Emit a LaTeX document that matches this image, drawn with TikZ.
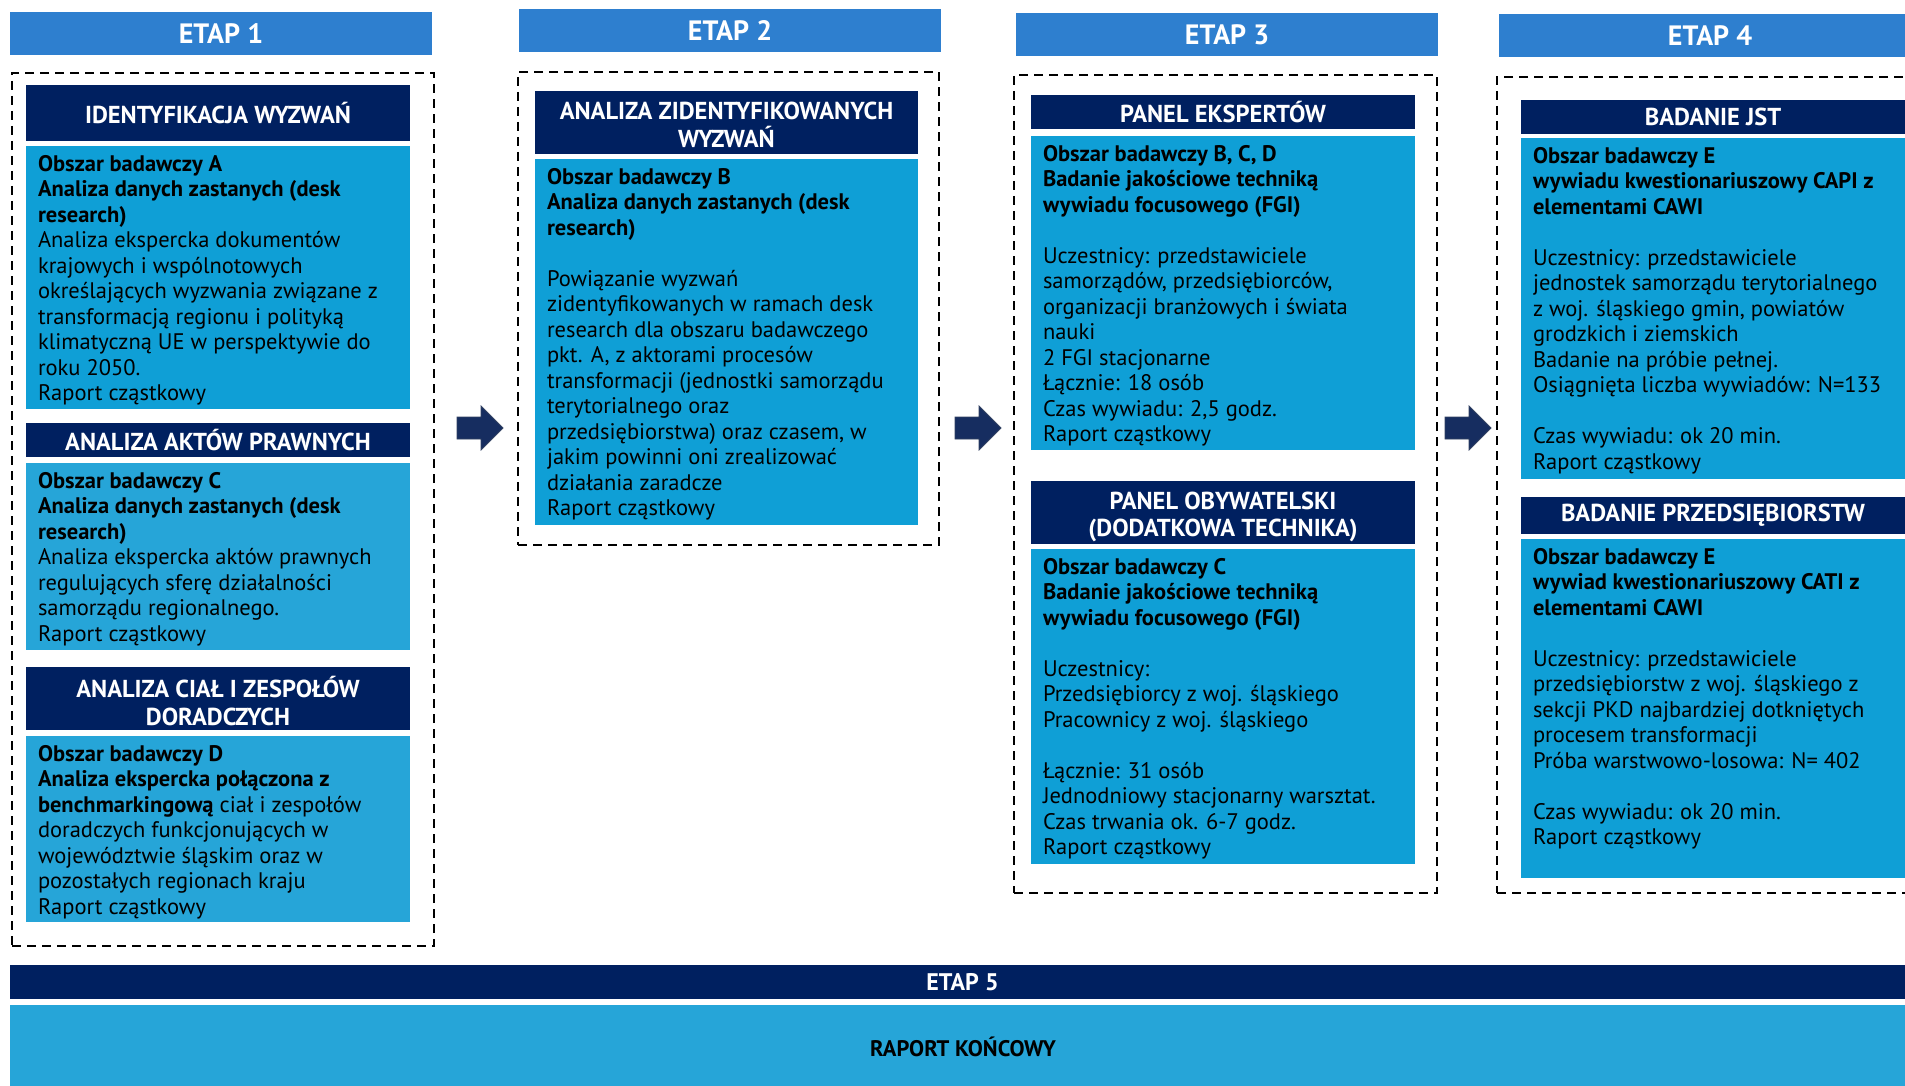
\documentclass[tikz,border=0pt]{standalone}
\usepackage{fontspec}
\setmainfont{PT Sans}
\definecolor{etapblue}{RGB}{46,127,207}
\definecolor{navy}{RGB}{0,32,96}
\definecolor{bodyblue}{RGB}{15,159,214}
\definecolor{bodyblue2}{RGB}{38,165,216}
\definecolor{arrowfill}{RGB}{22,45,96}
\definecolor{arrowdraw}{RGB}{50,66,98}
\tikzset{
  etapbar/.style={fill=etapblue, anchor=north west, inner sep=0pt, outer sep=0pt, text=white, font=\fontsize{28}{32}\selectfont\bfseries},
  hdr/.style={fill=navy, anchor=north west, inner sep=0pt, outer sep=0pt, minimum width=384pt, text=white, align=center, font=\fontsize{24.5}{27.5}\selectfont\bfseries},
  hdrtext/.style={inner sep=0pt, outer sep=0pt, text=white, align=center, font=\fontsize{24.5}{27.5}\selectfont\bfseries},
  bodybox/.style={fill=bodyblue, anchor=north west, inner sep=0pt, outer sep=0pt, minimum width=384pt},
  btext/.style={anchor=north west, inner sep=0pt, outer sep=0pt, align=left, text=black, font=\fontsize{22.5}{25.5}\selectfont},
  dashbox/.style={draw=black, anchor=north west, inner sep=0pt, outer sep=0pt, line width=2pt, dash pattern=on 9pt off 6pt},
  blockarrow/.style={fill=arrowfill, draw=arrowdraw, line width=0.8pt, line join=miter},
}
% block arrow centred at (#1,#2): shaft 24 long, 22 high; head 22 long, 44 high
\newcommand\myblockarrow[3]{%
  \coordinate (#3) at (#1,#2);
  \draw[blockarrow] ([shift={(-23,-11)}]#3) -- ([shift={(1,-11)}]#3) -- ([shift={(1,-22)}]#3)
    -- ([shift={(23,0)}]#3) -- ([shift={(1,22)}]#3) -- ([shift={(1,11)}]#3)
    -- ([shift={(-23,11)}]#3) -- cycle;}
\begin{document}
\begin{tikzpicture}[x=1pt,y=-1pt]
\useasboundingbox (0,0) rectangle (1905,1086);
\clip (0,0) rectangle (1905,1086);

% ---------- ETAP 1 ----------
\node[etapbar, minimum width=422pt, minimum height=43pt] (e1) at (10,12) {ETAP 1};
\node[dashbox, minimum width=422pt, minimum height=873pt] (d1) at (12,73) {};
\node[hdr, minimum height=56pt] (h1a) at (26,85) {IDENTYFIKACJA WYZWAŃ};
\node[bodybox, minimum height=263pt] (b1a) at (26,146) {};
\node[btext] (t1a) at ([xshift=12pt,yshift=-9pt]b1a.north west) {\textbf{Obszar badawczy A}\\
\textbf{Analiza danych zastanych (desk}\\
\textbf{research)}\\
Analiza ekspercka dokumentów\\
krajowych i wspólnotowych\\
określających wyzwania związane z\\
transformacją regionu i polityką\\
klimatyczną UE w perspektywie do\\
roku 2050.\\
Raport cząstkowy};
\node[hdr, minimum height=34pt] (h1b) at (26,423) {ANALIZA AKTÓW PRAWNYCH};
\node[bodybox, fill=bodyblue2, minimum height=187pt] (b1b) at (26,463) {};
\node[btext] (t1b) at ([xshift=12pt,yshift=-9pt]b1b.north west) {\textbf{Obszar badawczy C}\\
\textbf{Analiza danych zastanych (desk}\\
\textbf{research)}\\
Analiza ekspercka aktów prawnych\\
regulujących sferę działalności\\
samorządu regionalnego.\\
Raport cząstkowy};
\node[hdr, minimum height=63pt] (h1c) at (26,667) {};
\node[hdrtext] (h1ct) at ([yshift=-2.5pt]h1c.center) {ANALIZA CIAŁ I ZESPOŁÓW\\DORADCZYCH};
\node[bodybox, fill=bodyblue2, minimum height=186pt] (b1c) at (26,736) {};
\node[btext] (t1c) at ([xshift=12pt,yshift=-9pt]b1c.north west) {\textbf{Obszar badawczy D}\\
\textbf{Analiza ekspercka połączona z}\\
\textbf{benchmarkingową} ciał i zespołów\\
doradczych funkcjonujących w\\
województwie śląskim oraz w\\
pozostałych regionach kraju\\
Raport cząstkowy};

% ---------- ETAP 2 ----------
\node[etapbar, minimum width=422pt, minimum height=43pt] (e2) at (519,9) {ETAP 2};
\node[dashbox, minimum width=421pt, minimum height=473pt] (d2) at (518,72) {};
\node[hdr, minimum width=383pt, minimum height=63pt] (h2a) at (535,91) {};
\node[hdrtext] (h2at) at ([yshift=-2.5pt]h2a.center) {ANALIZA ZIDENTYFIKOWANYCH\\WYZWAŃ};
\node[bodybox, minimum width=383pt, minimum height=366pt] (b2a) at (535,159) {};
\node[btext] (t2a) at ([xshift=12pt,yshift=-9pt]b2a.north west) {\textbf{Obszar badawczy B}\\
\textbf{Analiza danych zastanych (desk}\\
\textbf{research)}\\[25.5pt]
Powiązanie wyzwań\\
zidentyfikowanych w ramach desk\\
research dla obszaru badawczego\\
pkt. A, z aktorami procesów\\
transformacji (jednostki samorządu\\
terytorialnego oraz\\
przedsiębiorstwa) oraz czasem, w\\
jakim powinni oni zrealizować\\
działania zaradcze\\
Raport cząstkowy};

% ---------- ETAP 3 ----------
\node[etapbar, minimum width=422pt, minimum height=43pt] (e3) at (1016,13) {ETAP 3};
\node[dashbox, minimum width=423pt, minimum height=818pt] (d3) at (1014,75) {};
\node[hdr, minimum height=34pt] (h3a) at (1031,95) {PANEL EKSPERTÓW};
\node[bodybox, minimum height=314pt] (b3a) at (1031,136) {};
\node[btext] (t3a) at ([xshift=12pt,yshift=-9pt]b3a.north west) {\textbf{Obszar badawczy B, C, D}\\
\textbf{Badanie jakościowe techniką}\\
\textbf{wywiadu focusowego (FGI)}\\[25.5pt]
Uczestnicy: przedstawiciele\\
samorządów, przedsiębiorców,\\
organizacji branżowych i świata\\
nauki\\
2 FGI stacjonarne\\
Łącznie: 18 osób\\
Czas wywiadu: 2,5 godz.\\
Raport cząstkowy};
\node[hdr, minimum height=63pt] (h3b) at (1031,481) {};
\node[hdrtext] (h3bt) at ([yshift=-4.5pt]h3b.center) {PANEL OBYWATELSKI\\(DODATKOWA TECHNIKA)};
\node[bodybox, minimum height=315pt] (b3b) at (1031,549) {};
\node[btext] (t3b) at ([xshift=12pt,yshift=-9pt]b3b.north west) {\textbf{Obszar badawczy C}\\
\textbf{Badanie jakościowe techniką}\\
\textbf{wywiadu focusowego (FGI)}\\[25.5pt]
Uczestnicy:\\
Przedsiębiorcy z woj. śląskiego\\
Pracownicy z woj. śląskiego\\[25.5pt]
Łącznie: 31 osób\\
Jednodniowy stacjonarny warsztat.\\
Czas trwania ok. 6-7 godz.\\
Raport cząstkowy};

% ---------- ETAP 4 ----------
\node[etapbar, minimum width=422pt, minimum height=43pt] (e4) at (1499,14) {ETAP 4};
\node[dashbox, minimum width=440pt, minimum height=816pt] (d4) at (1497,77) {};
\node[hdr, minimum height=34pt] (h4a) at (1521,100) {BADANIE JST};
\node[bodybox, minimum height=341pt] (b4a) at (1521,138) {};
\node[btext] (t4a) at ([xshift=12pt,yshift=-9pt]b4a.north west) {\textbf{Obszar badawczy E}\\
\textbf{wywiadu kwestionariuszowy CAPI z}\\
\textbf{elementami CAWI}\\[25.5pt]
Uczestnicy: przedstawiciele\\
jednostek samorządu terytorialnego\\
z woj. śląskiego gmin, powiatów\\
grodzkich i ziemskich\\
Badanie na próbie pełnej.\\
Osiągnięta liczba wywiadów: N=133\\[25.5pt]
Czas wywiadu: ok 20 min.\\
Raport cząstkowy};
\node[hdr, minimum height=37pt] (h4b) at (1521,497) {BADANIE PRZEDSIĘBIORSTW};
\node[bodybox, minimum height=339pt] (b4b) at (1521,539) {};
\node[btext] (t4b) at ([xshift=12pt,yshift=-9pt]b4b.north west) {\textbf{Obszar badawczy E}\\
\textbf{wywiad kwestionariuszowy CATI z}\\
\textbf{elementami CAWI}\\[25.5pt]
Uczestnicy: przedstawiciele\\
przedsiębiorstw z woj. śląskiego z\\
sekcji PKD najbardziej dotkniętych\\
procesem transformacji\\
Próba warstwowo-losowa: N= 402\\[25.5pt]
Czas wywiadu: ok 20 min.\\
Raport cząstkowy};

% ---------- arrows ----------
\myblockarrow{480}{428}{a12}
\myblockarrow{978}{428}{a23}
\myblockarrow{1468}{428}{a34}

% ---------- ETAP 5 ----------
\node[fill=navy, anchor=north west, inner sep=0pt, outer sep=0pt, minimum width=1905pt, minimum height=34pt, text=white, font=\fontsize{24}{28}\selectfont\bfseries] (e5) at (10,965) {ETAP 5};
\node[fill=bodyblue2, anchor=north west, inner sep=0pt, outer sep=0pt, minimum width=1905pt, minimum height=90pt] (r5) at (10,1005) {};
\node[text=black, font=\fontsize{22.5}{26}\selectfont\bfseries, inner sep=0pt] (r5t) at (963,1047) {RAPORT KOŃCOWY};
\end{tikzpicture}
\end{document}
